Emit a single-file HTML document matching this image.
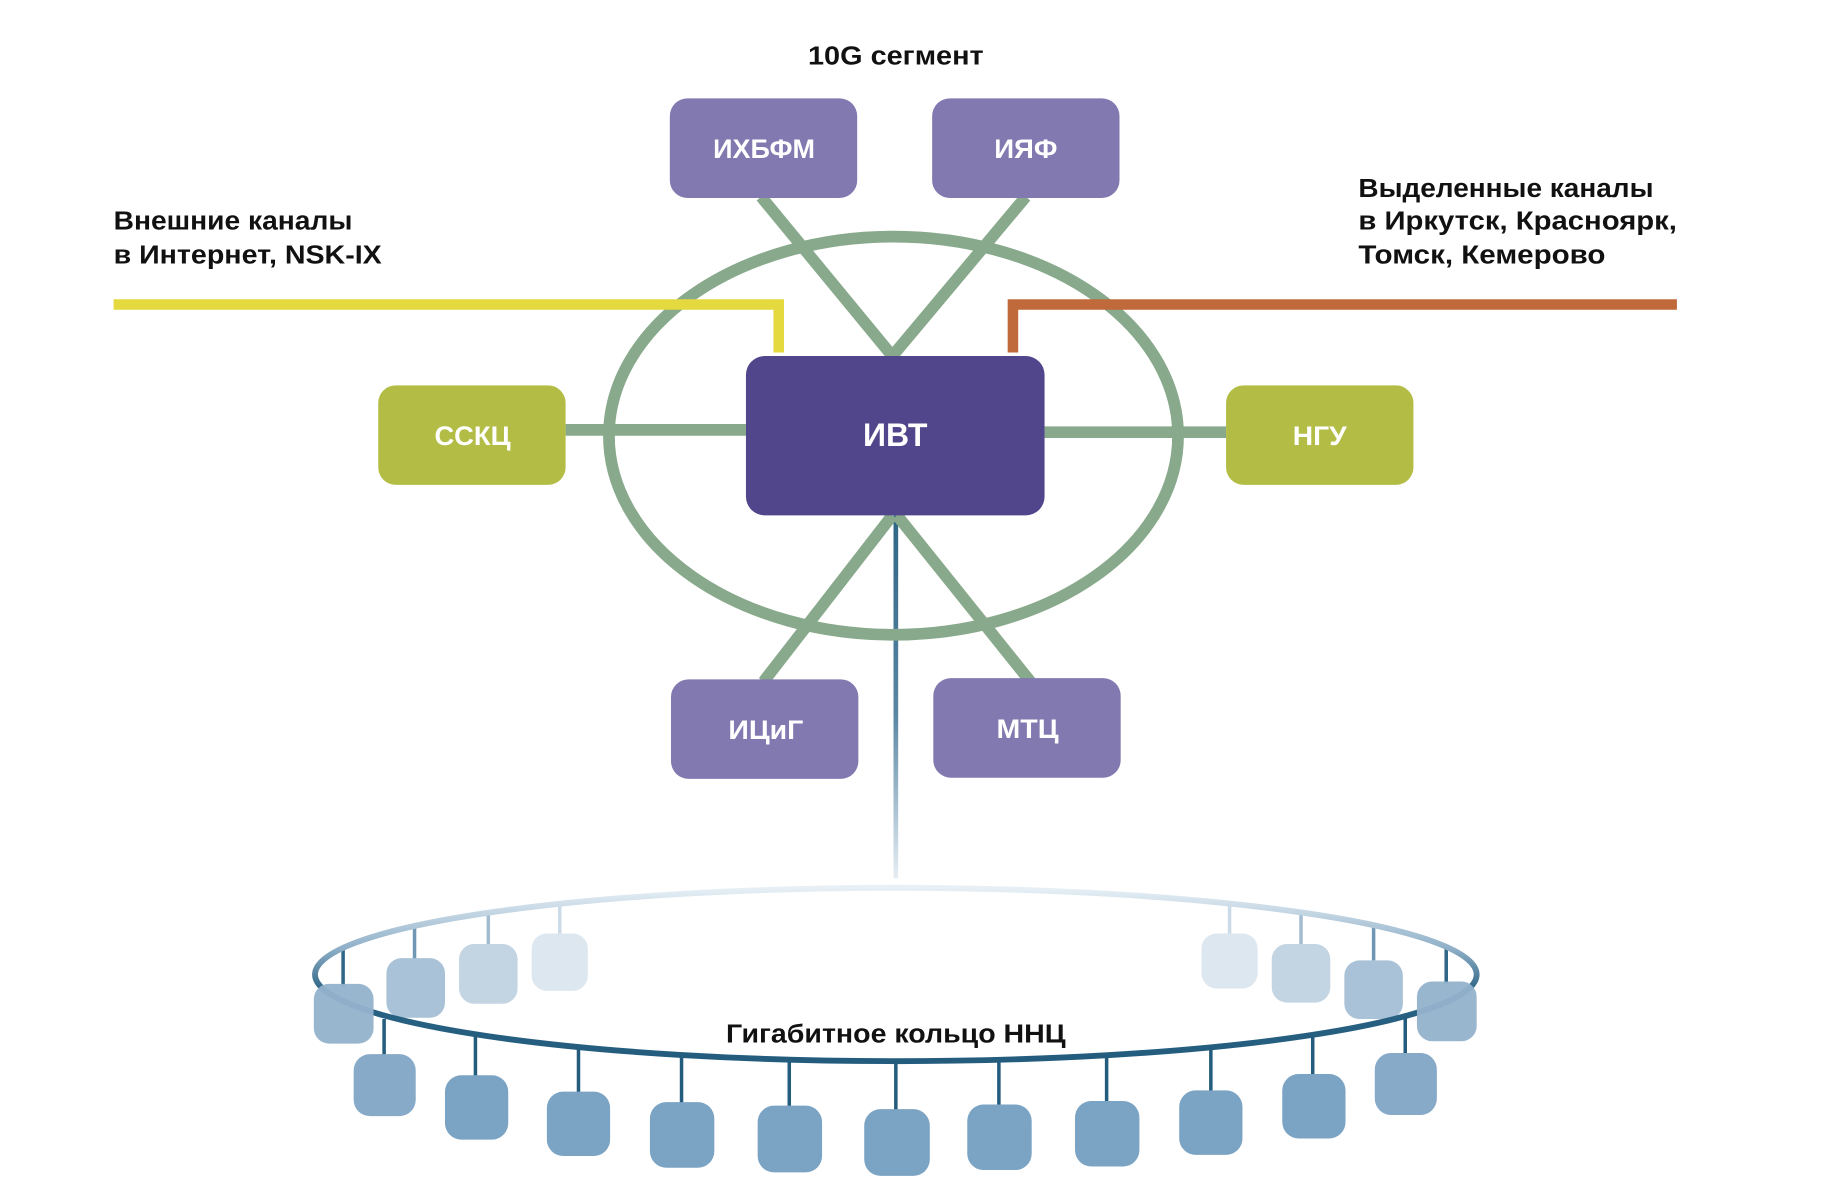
<!DOCTYPE html>
<html><head><meta charset="utf-8"><style>
html,body{margin:0;padding:0;background:#fff;}
svg{display:block;}
text{font-family:"Liberation Sans","DejaVu Sans",sans-serif;font-weight:bold;}
</style></head><body>
<svg width="1835" height="1197" viewBox="0 0 1567 1022" preserveAspectRatio="none" xmlns="http://www.w3.org/2000/svg">
<defs>
<linearGradient id="vl" x1="0" y1="0" x2="0" y2="1">
<stop offset="0" stop-color="#2f6585"/><stop offset="0.55" stop-color="#5a87a3"/><stop offset="1" stop-color="#e6eef4"/>
</linearGradient>
<linearGradient id="ring" x1="0" y1="0" x2="0" y2="1">
<stop offset="0" stop-color="#e8f0f6"/><stop offset="0.35" stop-color="#8fb0c8"/><stop offset="0.6" stop-color="#2a6283"/><stop offset="1" stop-color="#245c7e"/>
</linearGradient>
</defs>
<rect width="1567" height="1022" fill="#fff"/>
<g font-size="22" fill="#111" lengthAdjust="spacingAndGlyphs">
<text x="690" y="55" textLength="150" lengthAdjust="spacingAndGlyphs">10G сегмент</text>
<text x="97" y="196" textLength="204" lengthAdjust="spacingAndGlyphs">Внешние каналы</text>
<text x="97" y="225" textLength="229" lengthAdjust="spacingAndGlyphs">в Интернет, NSK-IX</text>
<text x="1160" y="168" textLength="252" lengthAdjust="spacingAndGlyphs">Выделенные каналы</text>
<text x="1160" y="196" textLength="272" lengthAdjust="spacingAndGlyphs">в Иркутск, Красноярк,</text>
<text x="1160" y="225" textLength="211" lengthAdjust="spacingAndGlyphs">Томск, Кемерово</text>
</g>

<g>
<line x1="293" y1="810" x2="293" y2="842" stroke="#2f6585" stroke-width="3"/>
<line x1="354" y1="792" x2="354" y2="820" stroke="#6f97b4" stroke-width="3"/>
<line x1="417" y1="780" x2="417" y2="808" stroke="#a2bdd1" stroke-width="3"/>
<line x1="478" y1="772" x2="478" y2="798" stroke="#cbdbe7" stroke-width="3"/>
<line x1="1050" y1="772" x2="1050" y2="798" stroke="#cbdbe7" stroke-width="3"/>
<line x1="1111" y1="780" x2="1111" y2="808" stroke="#a2bdd1" stroke-width="3"/>
<line x1="1173" y1="792" x2="1173" y2="820" stroke="#6f97b4" stroke-width="3"/>
<line x1="1235" y1="810" x2="1235" y2="840" stroke="#2f6585" stroke-width="3"/>
<rect x="330" y="818" width="50" height="51" rx="13" fill="#a9c2d7"/>
<rect x="392" y="806" width="50" height="51" rx="13" fill="#c3d4e3"/>
<rect x="454" y="797" width="48" height="49" rx="13" fill="#dde7f0"/>
<rect x="1026" y="797" width="48" height="47" rx="13" fill="#dde7f0"/>
<rect x="1086" y="806" width="50" height="50" rx="13" fill="#c3d4e3"/>
<rect x="1148" y="820" width="50" height="50" rx="13" fill="#a9c2d7"/>
</g>
<ellipse cx="765" cy="832" rx="496" ry="74" fill="none" stroke="url(#ring)" stroke-width="5"/>
<rect x="268" y="840" width="51" height="51" rx="13" fill="#93b2cc" opacity="0.95"/>
<rect x="1210" y="838" width="51" height="51" rx="13" fill="#93b2cc" opacity="0.95"/>
<text x="620" y="890" font-size="22" fill="#111" textLength="290" lengthAdjust="spacingAndGlyphs">Гигабитное кольцо ННЦ</text>
<g stroke="#245c7e" stroke-width="3">
<line x1="328" y1="870" x2="328" y2="902"/><line x1="406" y1="884" x2="406" y2="920"/>
<line x1="494" y1="895" x2="494" y2="934"/><line x1="582" y1="902" x2="582" y2="942"/>
<line x1="674" y1="905" x2="674" y2="946"/><line x1="765" y1="906" x2="765" y2="948"/>
<line x1="853" y1="905" x2="853" y2="944"/><line x1="945" y1="902" x2="945" y2="942"/>
<line x1="1034" y1="895" x2="1034" y2="933"/><line x1="1121" y1="884" x2="1121" y2="918"/>
<line x1="1200" y1="868" x2="1200" y2="900"/>
</g>
<g fill="#7ba3c3">
<rect x="302" y="900" width="53" height="53" rx="14" fill="#86aac8"/>
<rect x="380" y="918" width="54" height="55" rx="14"/>
<rect x="467" y="932" width="54" height="55" rx="14"/>
<rect x="555" y="941" width="55" height="56" rx="14"/>
<rect x="647" y="944" width="55" height="57" rx="14"/>
<rect x="738" y="947" width="56" height="57" rx="14"/>
<rect x="826" y="943" width="55" height="56" rx="14"/>
<rect x="918" y="940" width="55" height="56" rx="14"/>
<rect x="1007" y="931" width="54" height="55" rx="14"/>
<rect x="1095" y="917" width="54" height="55" rx="14"/>
<rect x="1174" y="899" width="53" height="53" rx="14" fill="#86aac8"/>
</g>

<rect x="763" y="440" width="4" height="310" fill="url(#vl)"/>

<g stroke="#88a98b" stroke-width="10" fill="none">
<ellipse cx="763" cy="372" rx="243" ry="170"/>
<line x1="650" y1="168" x2="762" y2="304"/>
<line x1="876" y1="168" x2="762" y2="304"/>
<line x1="762" y1="440" x2="652" y2="582"/>
<line x1="766" y1="440" x2="880" y2="582"/>
<line x1="483" y1="367" x2="637" y2="367"/>
<line x1="892" y1="369" x2="1047" y2="369"/>
</g>
<polyline points="97,260 665,260 665,301" fill="none" stroke="#e4d93f" stroke-width="9"/>
<polyline points="865,301 865,260 1432,260" fill="none" stroke="#c0693a" stroke-width="9"/>

<rect x="572" y="84" width="160" height="85" rx="15" fill="#8279b0"/>
<rect x="796" y="84" width="160" height="85" rx="15" fill="#8279b0"/>
<rect x="573" y="580" width="160" height="85" rx="15" fill="#8279b0"/>
<rect x="797" y="579" width="160" height="85" rx="15" fill="#8279b0"/>
<rect x="323" y="329" width="160" height="85" rx="15" fill="#b3bd45"/>
<rect x="1047" y="329" width="160" height="85" rx="15" fill="#b3bd45"/>
<rect x="637" y="304" width="255" height="136" rx="16" fill="#51468b"/>
<g fill="#fff" font-size="23">
<text x="609" y="135" textLength="87" lengthAdjust="spacingAndGlyphs">ИХБФМ</text>
<text x="849" y="135" textLength="54" lengthAdjust="spacingAndGlyphs">ИЯФ</text>
<text x="622" y="631" textLength="64" lengthAdjust="spacingAndGlyphs">ИЦиГ</text>
<text x="851" y="630" textLength="53" lengthAdjust="spacingAndGlyphs">МТЦ</text>
<text x="371" y="380" textLength="65" lengthAdjust="spacingAndGlyphs">ССКЦ</text>
<text x="1104" y="380" textLength="46" lengthAdjust="spacingAndGlyphs">НГУ</text>
<text x="737" y="381" font-size="28" textLength="55" lengthAdjust="spacingAndGlyphs">ИВТ</text>
</g>
</svg>
</body></html>
